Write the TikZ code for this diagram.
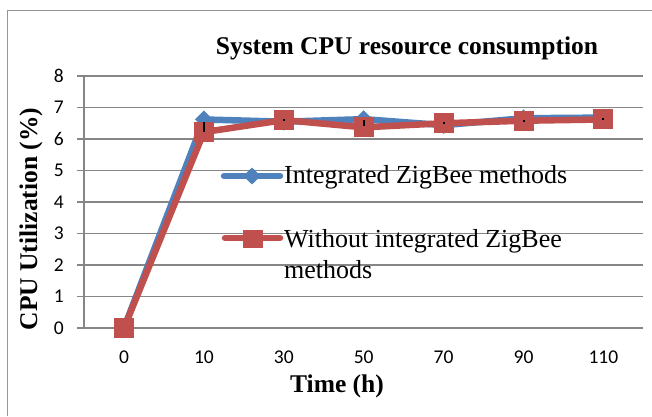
\documentclass[tikz,border=0pt]{standalone}
\usepackage{fontspec}
\setmainfont{Liberation Serif}
\newfontfamily\tickfont{Carlito}
\usetikzlibrary{shapes.geometric}
\definecolor{seriesblue}{RGB}{79,129,189}
\definecolor{seriesred}{RGB}{192,80,77}
\definecolor{gridgray}{RGB}{134,134,134}
\definecolor{framegray}{RGB}{150,150,150}
\begin{document}
\begin{tikzpicture}[x=1pt,y=-1pt,
  gridline/.style={draw=gridgray,line width=1.3pt},
  blueline/.style={draw=seriesblue,line width=6.5pt,line join=round,line cap=round},
  redline/.style={draw=seriesred,line width=6.5pt,line join=round,line cap=round},
  bluemark/.style={diamond,fill=seriesblue,inner sep=0pt,minimum width=18pt,minimum height=18pt},
  redmark/.style={rectangle,fill=seriesred,inner sep=0pt,minimum width=20pt,minimum height=20pt},
  errbar/.style={draw=black,line width=1.2pt},
  ticklabel/.style={font=\tickfont\fontsize{19.5}{22}\selectfont,inner sep=0pt},
  titletext/.style={font=\fontsize{25.5}{30}\selectfont\bfseries,inner sep=0pt},
  legendtext/.style={font=\fontsize{26}{31}\selectfont,inner sep=0pt,align=left}
]
\useasboundingbox (0,0) rectangle (652,416);

% outer chart frame (only left and top edges lie inside the page)
\draw[framegray,line width=1pt] (7,416) -- (7,10) -- (652,10);

% horizontal grid and value axis
\foreach \v in {0,...,8}{
  \draw[gridline] (77,328-31.5*\v) -- (643,328-31.5*\v);
  \node[ticklabel,anchor=east] (yl\v) at (64,328-31.5*\v) {\v};
}
\draw[gridline] (84,76) -- (84,328);

% category labels
\foreach \c [count=\i from 0] in {0,10,30,50,70,90,110}{
  \node[ticklabel] (xl\i) at (124+79.9*\i,357) {\c};
}

% titles
\node[titletext,anchor=base] (title) at (407,54) {System CPU resource consumption};
\node[titletext,anchor=base] (xtitle) at (337,392) {Time (h)};
\node[titletext,anchor=base,rotate=90] (ytitle) at (37,219) {CPU Utilization (\%)};

% data points
\foreach \v [count=\i from 0] in {0,6.62,6.55,6.63,6.44,6.66,6.68}{
  \coordinate (b\i) at (124+79.9*\i,328-31.5*\v);
}
\foreach \v [count=\i from 0] in {0,6.22,6.6,6.37,6.5,6.58,6.62}{
  \coordinate (r\i) at (124+79.9*\i,328-31.5*\v);
}

% series 1: integrated ZigBee methods
\draw[blueline] (b0) -- (b1) -- (b2) -- (b3) -- (b4) -- (b5) -- (b6);
\foreach \i in {1,...,6}{ \node[bluemark] (bm\i) at (b\i) {}; }

% series 2: without integrated ZigBee methods
\draw[redline] (r0) -- (r1) -- (r2) -- (r3) -- (r4) -- (r5) -- (r6);
\foreach \i in {0,...,6}{ \node[redmark] (rm\i) at (r\i) {}; }

% small error marks on series 2
\draw[errbar] (204,122) -- (204,132);
\draw[errbar] (364,120) -- (364,126);
\foreach \i in {2,4,5,6}{ \fill (r\i) ++(-1,-1) rectangle ++(2,2); }

% legend
\coordinate (lb1) at (224,176);
\coordinate (lb2) at (280,176);
\draw[blueline] (lb1) -- (lb2);
\node[bluemark,minimum width=18pt,minimum height=17pt] (lbm) at (252,176) {};
\node[legendtext,anchor=base west] (lbt) at (284,183) {Integrated ZigBee methods};

\coordinate (lr1) at (225,238);
\coordinate (lr2) at (280,238);
\draw[redline] (lr1) -- (lr2);
\node[redmark,minimum height=18pt] (lrm) at (253,239) {};
\node[legendtext,anchor=base west] (lrt) at (284,278) {Without integrated ZigBee\\methods};
\end{tikzpicture}
\end{document}
